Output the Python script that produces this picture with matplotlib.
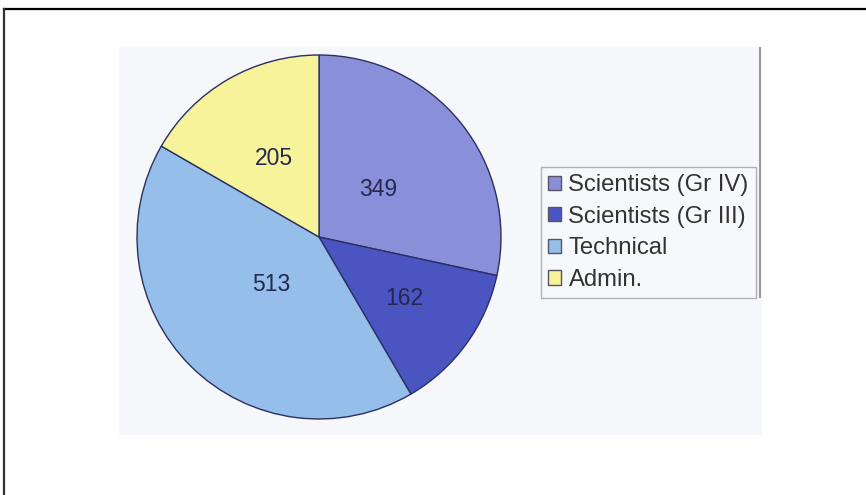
import numpy as np
import matplotlib
matplotlib.use("Agg")
import matplotlib.pyplot as plt
from matplotlib.lines import Line2D
from matplotlib.patches import Rectangle

plt.rcParams['font.family'] = ['Liberation Sans', 'DejaVu Sans']

# staff strength by category
groups = ["Scientists (Gr IV)", "Scientists (Gr III)", "Technical", "Admin."]
counts = [349, 162, 513, 205]
colors = ["#8a8fd9", "#4b55c2", "#95bfea", "#f6f39b"]

W, H = 866, 495
fig = plt.figure(figsize=(W / 100, H / 100), dpi=100)

def px(x, y):
    # pixel position (from top-left) -> figure fraction
    return x / W, 1 - y / H

# outer frame, top and left edges only
x0, y0 = px(4, 9)
fig.add_artist(Line2D([x0, 1], [y0, y0], color="black", lw=1.6))
fig.add_artist(Line2D([x0, x0], [0, y0], color="#333333", lw=1.6))

# light panel behind the chart
bx, by = px(119, 435)
fig.add_artist(Rectangle((bx, by), (762 - 119) / W, (435 - 47) / H,
                         facecolor="#f6f7fb", edgecolor="none", zorder=0))
lx, ly_top = px(760, 48)
_, ly_bot = px(760, 297)
fig.add_artist(Line2D([lx, lx], [ly_bot, ly_top], color="#9a9a9a", lw=1.5))

# pie centred at (319, 237), radius 182 px
cx, cy, r = 319, 237, 182
ax = fig.add_axes([(cx - r) / W, (H - cy - r) / H, 2 * r / W, 2 * r / H])
wedges, _ = ax.pie(counts, colors=colors, startangle=90, counterclock=False,
                   wedgeprops=dict(edgecolor="#2b3060", linewidth=1.0))
ax.set_xlim(-1, 1)
ax.set_ylim(-1, 1)
ax.set_aspect("equal")
ax.axis("off")

# value labels inside each wedge
dist = [0.42, 0.58, 0.37, 0.5]
for w, n, d in zip(wedges, counts, dist):
    mid = np.deg2rad((w.theta1 + w.theta2) / 2)
    ax.text(d * np.cos(mid), d * np.sin(mid), str(n), ha="center", va="center",
            fontsize=16.5, color="#25284a")

leg_x, leg_y = px(541, 167)
leg = fig.legend(wedges, groups, loc="upper left", bbox_to_anchor=(leg_x, leg_y),
                 fontsize=17.2, frameon=True, fancybox=False, borderaxespad=0,
                 handlelength=0.55, handleheight=0.55, handletextpad=0.3,
                 labelspacing=0.4, borderpad=0.3, labelcolor="#333333")
leg.get_frame().set_edgecolor("#a0a0a0")
leg.get_frame().set_facecolor("#f8f9fb")
leg.get_frame().set_linewidth(1.0)
for h in leg.legend_handles:
    h.set_edgecolor("#555566")

fig.savefig("out.png", dpi=100, facecolor="white")
